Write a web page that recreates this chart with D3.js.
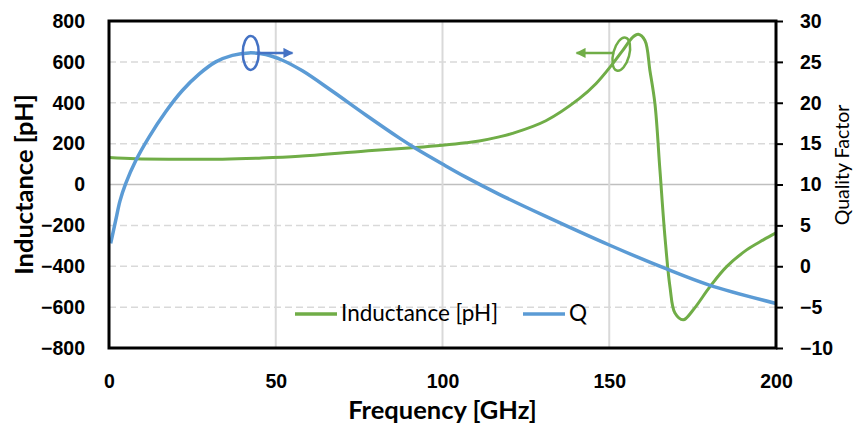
<!DOCTYPE html>
<html>
<head>
<meta charset="utf-8">
<script src="https://cdn.jsdelivr.net/npm/d3@7"></script>
<style>
  body { margin: 0; background: #fff; }
  svg { display: block; font-family: Lato, "Open Sans", sans-serif; }
  .tick-label { font-weight: bold; font-size: 19.5px; fill: #000; }
</style>
</head>
<body>
<div id="chart"></div>
<script>
/* Inductance and Q vs frequency, two y axes */

// inductance curve (green)
const freqL = [0, 8, 20, 34, 45, 57, 77, 92, 100, 107, 111, 117, 121, 131, 141, 146, 151, 154, 157, 158.7, 160.7, 162.2, 163.7, 165.2, 166.7, 168.2, 169.7, 172.2, 175.2, 180.2, 185.2, 191.2, 196.2, 200];
const inductance = [132, 126, 124, 124, 129, 138, 164, 181, 192, 204, 213, 233, 250, 312, 420, 493, 590, 655, 720, 735, 705, 557, 395, 70, -256, -500, -629, -662, -613, -500, -402, -320, -271, -237];

// quality factor curve (blue)
const freqQ = [0.5, 2, 3.3, 5, 8, 12, 17, 22, 27, 32, 37, 42, 47, 52, 58, 67, 77, 87, 92, 100, 107, 117, 131, 150, 167, 180, 200];
const qValues = [2.8, 5.6, 8.0, 10.1, 12.9, 15.8, 18.9, 21.5, 23.5, 25.0, 25.8, 26.1, 25.9, 25.2, 23.9, 21.4, 18.5, 15.7, 14.4, 12.5, 10.9, 8.8, 6.1, 2.6, -0.3, -2.3, -4.55];

const xTicks = [0, 50, 100, 150, 200];
const yLTicks = [-800, -600, -400, -200, 0, 200, 400, 600, 800];
const yQTicks = [-10, -5, 0, 5, 10, 15, 20, 25, 30];

const height = 429,
    width = 854,
    margin = ({ top: 21, right: 78, bottom: 81, left: 109 });

const green = "#70AD47", blue = "#5B9BD5", arrowBlue = "#4472C4";

const svg = d3.select("#chart")
    .append("svg")
    .attr("width", width)
    .attr("height", height)
    .attr("viewBox", [0, 0, width, height]);

let x = d3.scaleLinear()
    .domain([0, 200])
    .range([margin.left, width - margin.right]);

let yL = d3.scaleLinear()
    .domain([-800, 800])
    .range([height - margin.bottom, margin.top]);

let yQ = d3.scaleLinear()
    .domain([-10, 30])
    .range([height - margin.bottom, margin.top]);

// gridlines
svg.append("g")
  .selectAll("line")
  .data(yLTicks.filter(d => d != 800 && d != -800))
  .join("line")
    .attr("x1", margin.left).attr("x2", width - margin.right)
    .attr("y1", d => yL(d)).attr("y2", d => yL(d))
    .attr("stroke", d => d == 0 ? "#BFBFBF" : "#D9D9D9")
    .attr("stroke-width", 1.5)
    .attr("stroke-dasharray", d => d == 0 ? null : "7,4");

svg.append("g")
  .selectAll("line")
  .data(xTicks.filter(d => d != 0 && d != 200))
  .join("line")
    .attr("x1", d => x(d)).attr("x2", d => x(d))
    .attr("y1", margin.top).attr("y2", height - margin.bottom)
    .attr("stroke", "#D9D9D9")
    .attr("stroke-width", 2);

// axes
svg.append("g")
  .attr("transform", `translate(0,${height - margin.bottom})`)
  .call(d3.axisBottom(x).tickValues(xTicks).tickSize(0).tickPadding(26))
  .call(g => g.select(".domain").remove())
  .call(g => g.selectAll("text").attr("class", "tick-label"));

svg.append("g")
  .attr("transform", `translate(${margin.left},0)`)
  .call(d3.axisLeft(yL).tickValues(yLTicks).tickSize(0).tickPadding(24))
  .call(g => g.select(".domain").remove())
  .call(g => g.selectAll("text").attr("class", "tick-label"));

svg.append("g")
  .attr("transform", `translate(${width - margin.right},0)`)
  .call(d3.axisRight(yQ).tickValues(yQTicks).tickSize(7).tickPadding(17))
  .call(g => g.select(".domain").remove())
  .call(g => g.selectAll("line").attr("stroke", "#000").attr("stroke-width", 2))
  .call(g => g.selectAll("text").attr("class", "tick-label"));

// lines
let lineL = d3.line()
    .x((d, i) => x(freqL[i]))
    .y(d => yL(d))
    .curve(d3.curveCatmullRom.alpha(0.5));

let lineQ = d3.line()
    .x((d, i) => x(freqQ[i]))
    .y(d => yQ(d))
    .curve(d3.curveCatmullRom.alpha(0.5));

svg.append("path")
    .datum(inductance)
    .attr("d", lineL)
    .attr("fill", "none")
    .attr("stroke", green)
    .attr("stroke-width", 3)
    .attr("stroke-linejoin", "round");

svg.append("path")
    .datum(qValues)
    .attr("d", lineQ)
    .attr("fill", "none")
    .attr("stroke", blue)
    .attr("stroke-width", 3.5)
    .attr("stroke-linejoin", "round");

// plot frame
svg.append("rect")
    .attr("x", margin.left)
    .attr("y", margin.top)
    .attr("width", width - margin.left - margin.right)
    .attr("height", height - margin.top - margin.bottom)
    .attr("fill", "none")
    .attr("stroke", "#000")
    .attr("stroke-width", 3);

// axis titles
svg.append("text")
  .attr("transform", `translate(33,${(margin.top + height - margin.bottom) / 2}) rotate(-90)`)
  .attr("text-anchor", "middle")
  .attr("font-weight", "bold")
  .attr("font-size", 25.5)
  .text("Inductance [pH]");

svg.append("text")
  .attr("transform", `translate(849,165) rotate(-90)`)
  .attr("text-anchor", "middle")
  .attr("font-size", 19.5)
  .text("Quality Factor");

svg.append("text")
  .attr("x", (margin.left + width - margin.right) / 2)
  .attr("y", 419)
  .attr("text-anchor", "middle")
  .attr("font-weight", "bold")
  .attr("font-size", 25.5)
  .text("Frequency [GHz]");

// arrowheads
const defs = svg.append("defs");
[["arrow-blue", arrowBlue], ["arrow-green", green]].forEach(([id, c]) => {
  defs.append("marker")
    .attr("id", id)
    .attr("viewBox", "0 0 10 10")
    .attr("refX", 9).attr("refY", 5)
    .attr("markerWidth", 4.5).attr("markerHeight", 4)
    .attr("markerUnits", "strokeWidth")
    .attr("orient", "auto")
    .append("path")
      .attr("d", "M0,0L10,5L0,10Z")
      .attr("fill", c);
});

// annotation: Q -> right axis
svg.append("ellipse")
  .attr("cx", x(42.5)).attr("cy", yQ(26.1))
  .attr("rx", 8).attr("ry", 17)
  .attr("fill", "none").attr("stroke", arrowBlue).attr("stroke-width", 2.5);
svg.append("line")
  .attr("x1", x(42.5) + 6).attr("y1", yQ(26.1))
  .attr("x2", x(55)).attr("y2", yQ(26.1))
  .attr("stroke", arrowBlue).attr("stroke-width", 2.5)
  .attr("marker-end", "url(#arrow-blue)");

// annotation: inductance -> left axis
svg.append("ellipse")
  .attr("transform", `translate(${x(153.6)},${yL(638)}) rotate(15)`)
  .attr("rx", 8).attr("ry", 17)
  .attr("fill", "none").attr("stroke", green).attr("stroke-width", 2.5);
svg.append("line")
  .attr("x1", x(153.6) - 7).attr("y1", yL(644))
  .attr("x2", x(140.2)).attr("y2", yL(644))
  .attr("stroke", green).attr("stroke-width", 2.5)
  .attr("marker-end", "url(#arrow-green)");

// legend
const legend = svg.append("g").attr("font-size", 22.5);
[["Inductance [pH]", green, 295], ["Q", blue, 523]].forEach(([name, c, lx]) => {
  legend.append("line")
    .attr("x1", lx).attr("x2", lx + 42)
    .attr("y1", 314).attr("y2", 314)
    .attr("stroke", c).attr("stroke-width", 3.5);
  legend.append("text")
    .attr("x", lx + 46).attr("y", 321)
    .text(name);
});
</script>
</body>
</html>
